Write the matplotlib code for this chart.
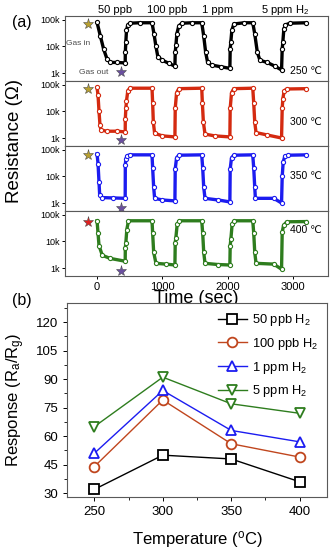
import matplotlib
matplotlib.use('Agg')
import matplotlib.pyplot as plt
from matplotlib.ticker import FixedLocator, NullLocator, AutoMinorLocator

plt.rcParams['font.family'] = ['Liberation Sans', 'DejaVu Sans']
plt.rcParams['mathtext.fontset'] = 'custom'
plt.rcParams['mathtext.rm'] = 'Liberation Sans'
plt.rcParams['mathtext.it'] = 'Liberation Sans'

# ---- panel (a): resistance transients, (time s, resistance ohm)
pts_250 = [(0, 80e3), (50, 25e3), (100, 8e3), (150, 3.5e3), (200, 2.5e3), (300, 2.5e3), (430, 2.4e3),
           (432, 6e3), (440, 15e3), (450, 40e3), (470, 65e3), (500, 75e3), (650, 78e3), (840, 78e3),
           (870, 30e3), (900, 10e3), (930, 4e3), (1000, 3e3), (1100, 2.3e3), (1190, 1.8e3),
           (1195, 6e3), (1205, 11e3), (1220, 30e3), (1250, 60e3), (1300, 75e3), (1450, 78e3), (1600, 78e3),
           (1630, 25e3), (1660, 6e3), (1690, 2.5e3), (1750, 2e3), (1900, 1.7e3), (2030, 1.5e3),
           (2035, 8e3), (2045, 15e3), (2060, 40e3), (2090, 70e3), (2250, 78e3), (2380, 78e3),
           (2410, 30e3), (2450, 6e3), (2490, 3e3), (2600, 2.5e3), (2720, 1.8e3), (2820, 1.3e3),
           (2830, 8e3), (2840, 15e3), (2855, 45e3), (2880, 65e3), (2950, 75e3), (3200, 78e3)]
pts_300 = [(0, 80e3), (15, 40e3), (30, 10e3), (45, 3e3), (60, 2e3), (150, 1.8e3), (300, 1.8e3), (430, 1.7e3),
           (432, 5e3), (440, 13e3), (450, 25e3), (470, 60e3), (500, 75e3), (840, 75e3),
           (850, 20e3), (860, 4e3), (880, 1.5e3), (1000, 1.2e3), (1190, 1.1e3),
           (1195, 13e3), (1215, 50e3), (1250, 72e3), (1600, 75e3),
           (1610, 20e3), (1625, 4e3), (1650, 1.4e3), (1800, 1.2e3), (2030, 1.1e3),
           (2035, 13e3), (2055, 50e3), (2090, 72e3), (2380, 75e3),
           (2395, 20e3), (2410, 4e3), (2430, 1.6e3), (2600, 1.3e3), (2820, 1e3),
           (2830, 13e3), (2840, 30e3), (2860, 60e3), (2900, 70e3), (3200, 72e3)]
pts_350 = [(0, 70e3), (15, 30e3), (30, 6e3), (40, 2e3), (80, 1.6e3), (250, 1.55e3), (430, 1.5e3),
           (432, 28e3), (440, 45e3), (460, 60e3), (500, 65e3), (840, 65e3),
           (850, 20e3), (865, 4e3), (880, 1.5e3), (1000, 1.3e3), (1190, 1.2e3),
           (1195, 19e3), (1215, 50e3), (1250, 63e3), (1600, 65e3),
           (1615, 20e3), (1630, 4e3), (1650, 1.5e3), (1850, 1.3e3), (2030, 1.1e3),
           (2035, 19e3), (2055, 50e3), (2090, 63e3), (2380, 65e3),
           (2395, 20e3), (2410, 4e3), (2420, 1.5e3), (2700, 1.5e3), (2820, 1e3),
           (2830, 10e3), (2845, 35e3), (2870, 58e3), (2920, 63e3), (3200, 65e3)]
pts_400 = [(0, 60e3), (15, 20e3), (30, 7e3), (80, 3e3), (200, 2.3e3), (430, 1.8e3),
           (432, 5.5e3), (440, 9e3), (455, 28e3), (480, 60e3), (840, 60e3),
           (850, 20e3), (865, 4e3), (900, 1.5e3), (1050, 1.4e3), (1190, 1.3e3),
           (1195, 9e3), (1205, 14e3), (1225, 45e3), (1260, 60e3), (1600, 60e3),
           (1615, 20e3), (1630, 4e3), (1650, 1.5e3), (1850, 1.35e3), (2030, 1.3e3),
           (2035, 7e3), (2045, 12e3), (2065, 45e3), (2100, 60e3), (2380, 60e3),
           (2395, 20e3), (2410, 4e3), (2430, 1.5e3), (2700, 1.4e3), (2820, 0.9e3),
           (2830, 22e3), (2850, 40e3), (2900, 55e3), (3200, 56e3)]
temps_a = ['250 ℃', '300 ℃', '350 ℃', '400 ℃']
temp_label_res = [1.2e3, 4e3, 10e3, 28e3]
colors_a = ['black', '#d42a10', '#1c1cf0', '#2e7d1e']
star_top_colors = ['#b8a030', '#b8a030', '#b8a030', '#e02020']
star_bot_res = [1.1e3, 0.85e3, 0.65e3, 0.75e3]
conc_labels = ['50 ppb', '100 ppb', '1 ppm', '5 ppm H$_2$']
conc_label_x = [115, 167, 218, 285]

# ---- panel (b): response vs temperature
temps = [250, 300, 350, 400]
resp_50ppb = [32, 50, 48, 36]
resp_100ppb = [44, 79, 56, 49]
resp_1ppm = [51, 84, 63, 57]
resp_5ppm = [65, 91, 77, 72]
series_labels = ['50 ppb H$_2$', '100 ppb H$_2$', '1 ppm H$_2$', '5 ppm H$_2$']
series_markers = ['s', 'o', '^', 'v']
colors_b = ['black', '#c0461e', '#1c1cf0', '#2e7d1e']

W, H = 336, 550
fig = plt.figure(figsize=(W / 100, H / 100), dpi=100)

panels = [pts_250, pts_300, pts_350, pts_400]
left, right = 65, 328
tops = [16, 81, 146, 211]
ph = 65
for i, pts in enumerate(panels):
    ax = fig.add_axes([left / W, 1 - (tops[i] + ph) / H, (right - left) / W, ph / H])
    t = [p[0] for p in pts]
    r = [p[1] for p in pts]
    c = colors_a[i]
    ax.plot(t, r, '-', color=c, lw=2.4, zorder=2)
    ax.plot(t, r, 'o', color=c, ms=3, mfc='white', mew=0.8, zorder=3)
    ax.set_yscale('log')
    ax.set_xlim(-490, 3530)
    ax.set_ylim(500, 140e3)
    ax.yaxis.set_major_locator(FixedLocator([1e3, 1e4, 1e5]))
    ax.yaxis.set_minor_locator(NullLocator())
    ax.set_yticklabels(['1k', '10k', '100k'])
    ax.set_xticks([0, 1000, 2000, 3000])
    ax.tick_params(axis='y', labelsize=6.5, direction='out', length=2.5, width=0.7, pad=1.5)
    ax.tick_params(axis='x', labelsize=8, direction='out', length=2.5, width=0.7, pad=1.5)
    for s in ax.spines.values():
        s.set_color('0.35')
        s.set_linewidth(0.8)
    if i < 3:
        ax.tick_params(axis='x', labelbottom=False, length=0)
    ax.plot([-140], [r[0] * 0.9], marker='*', ms=8, color=star_top_colors[i], mec='0.3', mew=0.4, ls='none')
    ax.plot([360], [star_bot_res[i]], marker='*', ms=8, color='#6a4fa0', mec='0.3', mew=0.4, ls='none')
    ax.text(3190, temp_label_res[i], temps_a[i], fontsize=7.5, ha='center', va='center')
    if i == 0:
        ax.text(-290, 13e3, 'Gas in', fontsize=6, ha='center', va='center', color='0.3')
        ax.text(-50, 1.05e3, 'Gas out', fontsize=6, ha='center', va='center', color='0.3')
    if i == 3:
        ax.set_xlabel('Time (sec)', fontsize=13, labelpad=-1)

for lab, x in zip(conc_labels, conc_label_x):
    fig.text(x / W, 1 - 10 / H, lab, fontsize=8, ha='center', va='center')
fig.text(22 / W, 1 - 22 / H, '(a)', fontsize=11.5, ha='center', va='center')
fig.text(15 / W, 1 - 141 / H, 'Resistance (Ω)', fontsize=13.5, rotation=90, ha='center', va='center')

# panel (b)
axb = fig.add_axes([67 / W, 1 - 497 / H, (327 - 67) / W, (497 - 303) / H])
series = [resp_50ppb, resp_100ppb, resp_1ppm, resp_5ppm]
for vals, lab, m, c in zip(series, series_labels, series_markers, colors_b):
    axb.plot(temps, vals, '-', marker=m, color=c, mfc='white', ms=7, mew=1.3, lw=1, label=lab)
axb.set_xlim(230, 420)
axb.set_ylim(28, 130)
axb.set_xticks(temps)
axb.set_yticks([30, 45, 60, 75, 90, 105, 120])
axb.xaxis.set_minor_locator(AutoMinorLocator(2))
axb.yaxis.set_minor_locator(AutoMinorLocator(2))
axb.tick_params(labelsize=9.5, direction='out', length=3, width=0.7)
axb.tick_params(which='minor', direction='out', length=2, width=0.6)
for s in axb.spines.values():
    s.set_color('0.35')
    s.set_linewidth(0.8)
axb.set_xlabel('Temperature ($^\\mathregular{o}$C)', fontsize=12, labelpad=8)
axb.set_ylabel('Response (R$_a$/R$_g$)', fontsize=12, labelpad=6)
axb.legend(loc='upper right', frameon=False, fontsize=9.3, handlelength=2.2,
           borderaxespad=0.3, labelspacing=0.6, handletextpad=0.4)
fig.text(22 / W, 1 - 300 / H, '(b)', fontsize=11.5, ha='center', va='center')

fig.savefig('out.png', dpi=100)
